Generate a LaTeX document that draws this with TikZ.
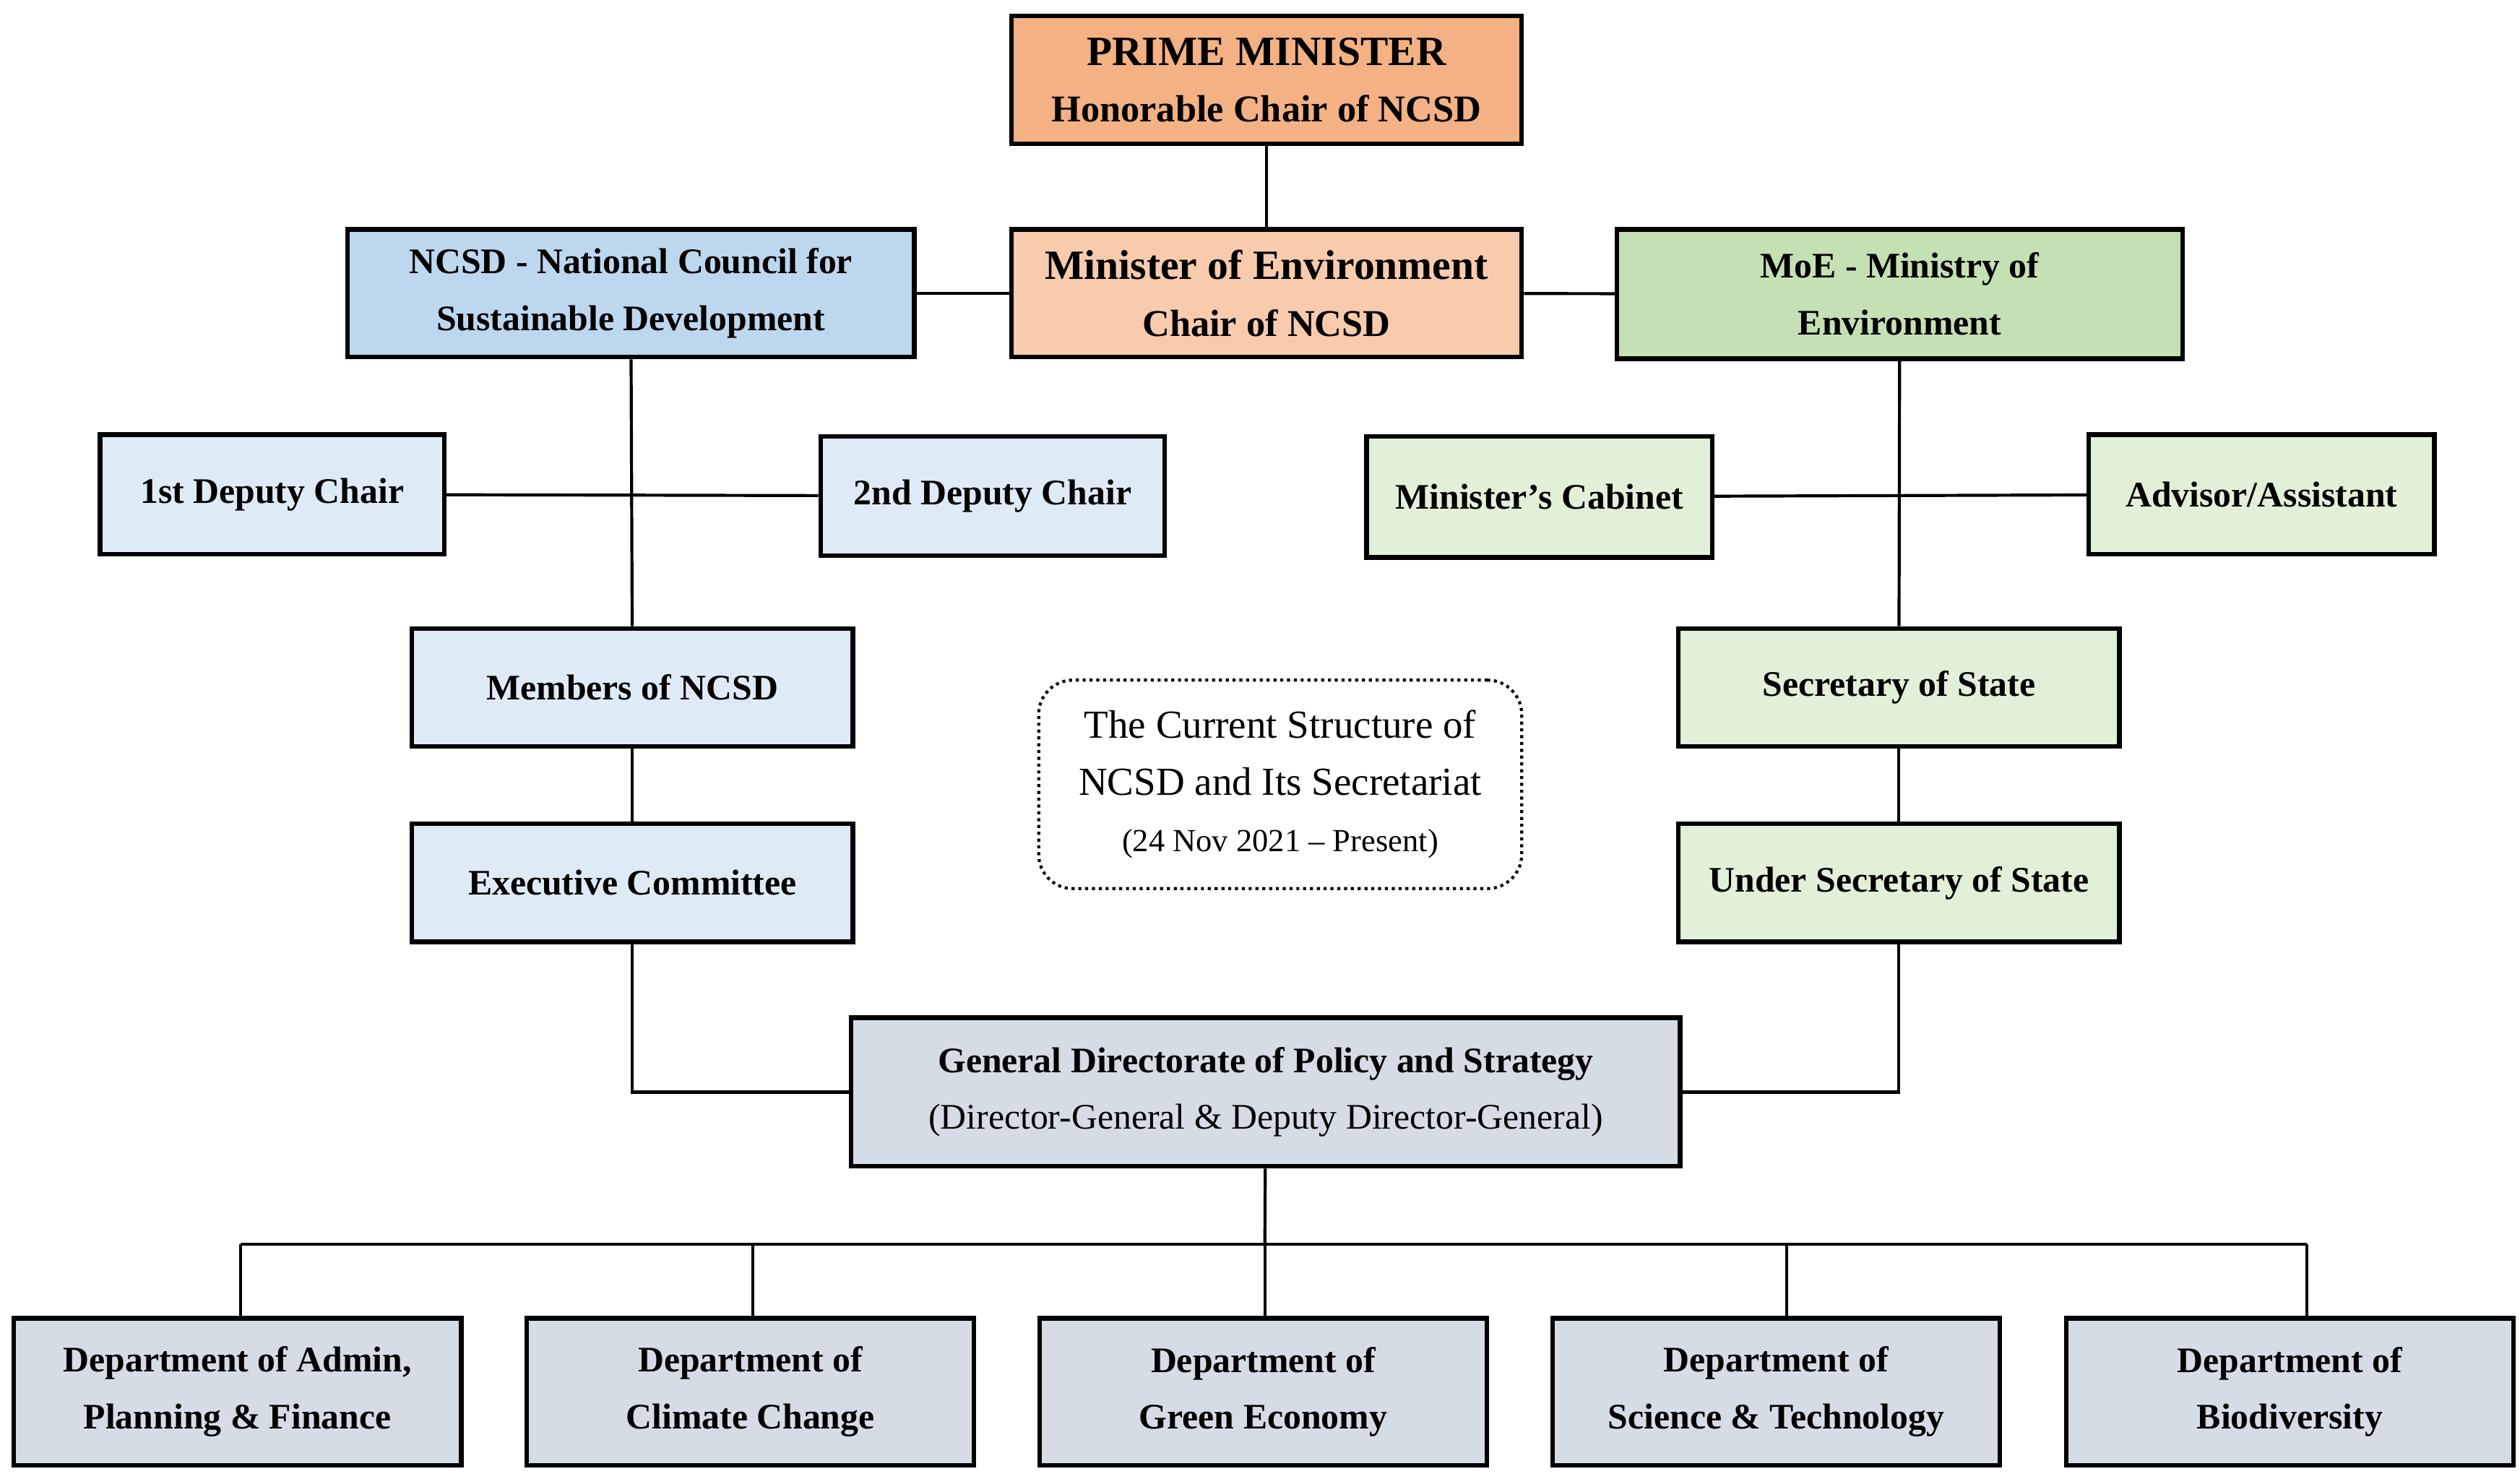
\documentclass[tikz,border=0pt]{standalone}
\usepackage{fontspec}
\setmainfont{Liberation Serif}
\usetikzlibrary{positioning}
\definecolor{pmorange}{HTML}{F4B183}
\definecolor{peach}{HTML}{F8CBAD}
\definecolor{midblue}{HTML}{BDD7EE}
\definecolor{paleblue}{HTML}{DEEBF7}
\definecolor{midgreen}{HTML}{C5E0B4}
\definecolor{palegreen}{HTML}{E2F0D9}
\definecolor{greyblue}{HTML}{D6DCE5}
\begin{document}
\begin{tikzpicture}[x=0.3mm,y=-0.3mm,line width=1.6pt,
font=\fontsize{19}{30}\selectfont\bfseries]
  \tikzstyle{box}=[draw=black,line width=2.4pt,align=center,inner sep=0pt]
  \useasboundingbox (0,0) rectangle (1560,912);
% top
\node[box,fill=pmorange,minimum width=316*0.3mm,minimum height=79*0.3mm] (PM) at (784,49.5)
  {\fontsize{22}{30}\selectfont PRIME MINISTER\\ \fontsize{20}{30}\selectfont Honorable Chair of NCSD};
\node[box,fill=peach,minimum width=316*0.3mm,minimum height=79*0.3mm] (ME) at (784,181.5)
  {\fontsize{22}{30}\selectfont Minister of Environment\\ \fontsize{20}{30}\selectfont Chair of NCSD};
\node[box,fill=midblue,minimum width=351*0.3mm,minimum height=79*0.3mm] (NCSD) at (390.5,181.5)
  {NCSD - National Council for\\ Sustainable Development};
\node[box,fill=midgreen,minimum width=350*0.3mm,minimum height=80*0.3mm] (MoE) at (1176,182)
  {MoE - Ministry of\\ Environment};
% second row
\node[box,fill=paleblue,minimum width=213*0.3mm,minimum height=74*0.3mm] (DC1) at (168.5,306) {1st Deputy Chair};
\node[box,fill=paleblue,minimum width=213*0.3mm,minimum height=74*0.3mm] (DC2) at (614.5,307) {2nd Deputy Chair};
\node[box,fill=palegreen,minimum width=214*0.3mm,minimum height=75*0.3mm] (Cab) at (953,307.5) {Minister's Cabinet};
\node[box,fill=palegreen,minimum width=214*0.3mm,minimum height=74*0.3mm] (Adv) at (1400,306) {Advisor/Assistant};
% middle
\node[box,fill=paleblue,minimum width=273*0.3mm,minimum height=73*0.3mm] (Mem) at (391.5,425.5) {Members of NCSD};
\node[box,fill=paleblue,minimum width=273*0.3mm,minimum height=73*0.3mm] (Exec) at (391.5,546.5) {Executive Committee};
\node[box,fill=palegreen,minimum width=273*0.3mm,minimum height=73*0.3mm] (Sec) at (1175.5,425.5) {Secretary of State};
\node[box,fill=palegreen,minimum width=273*0.3mm,minimum height=73*0.3mm] (USec) at (1175.5,546.5) {Under Secretary of State};
\node[draw,dotted,line width=1.6pt,rounded corners=18pt,align=center,
  minimum width=299*0.3mm,minimum height=129*0.3mm,font=\fontsize{21}{30}\selectfont] (Note) at (792.5,485.5)
  {The Current Structure of\\ NCSD and Its Secretariat\\ {\fontsize{17}{24}\selectfont (24 Nov 2021 -- Present)}};
\node[box,fill=greyblue,minimum width=513*0.3mm,minimum height=92*0.3mm] (GD) at (783.5,676)
  {General Directorate of Policy and Strategy\\ \mdseries (Director-General \& Deputy Director-General)};
% departments
\foreach \n/\x/\t in {D1/147/{Department of Admin,\\ Planning \& Finance},
  D2/464.5/{Department of\\ Climate Change},
  D3/782/{Department of\\ Green Economy},
  D4/1099.5/{Department of\\ Science \& Technology},
  D5/1417.5/{Department of\\ Biodiversity}}
  \node[box,fill=greyblue,minimum width=277*0.3mm,minimum height=91*0.3mm] (\n) at (\x,861.5) {\t};
% connectors
\draw (PM) -- (ME);
\draw (NCSD) -- (ME);
\draw (ME) -- (MoE);
\draw (NCSD) -- (Mem);
\draw (DC1) -- (DC2);
\draw (MoE) -- (Sec);
\draw (Cab) -- (Adv);
\draw (Mem) -- (Exec);
\draw (Sec) -- (USec);
\draw (Exec) |- (GD);
\draw (USec) |- (GD);
\coordinate (bus) at (783,770);
\draw (GD) -- (bus);
\draw (149,770) -- (1428,770);
\foreach \n/\x in {D1/149,D2/466,D3/783,D4/1106,D5/1428}
  \draw (\x,770) -- (\x,816);
\end{tikzpicture}
\end{document}
